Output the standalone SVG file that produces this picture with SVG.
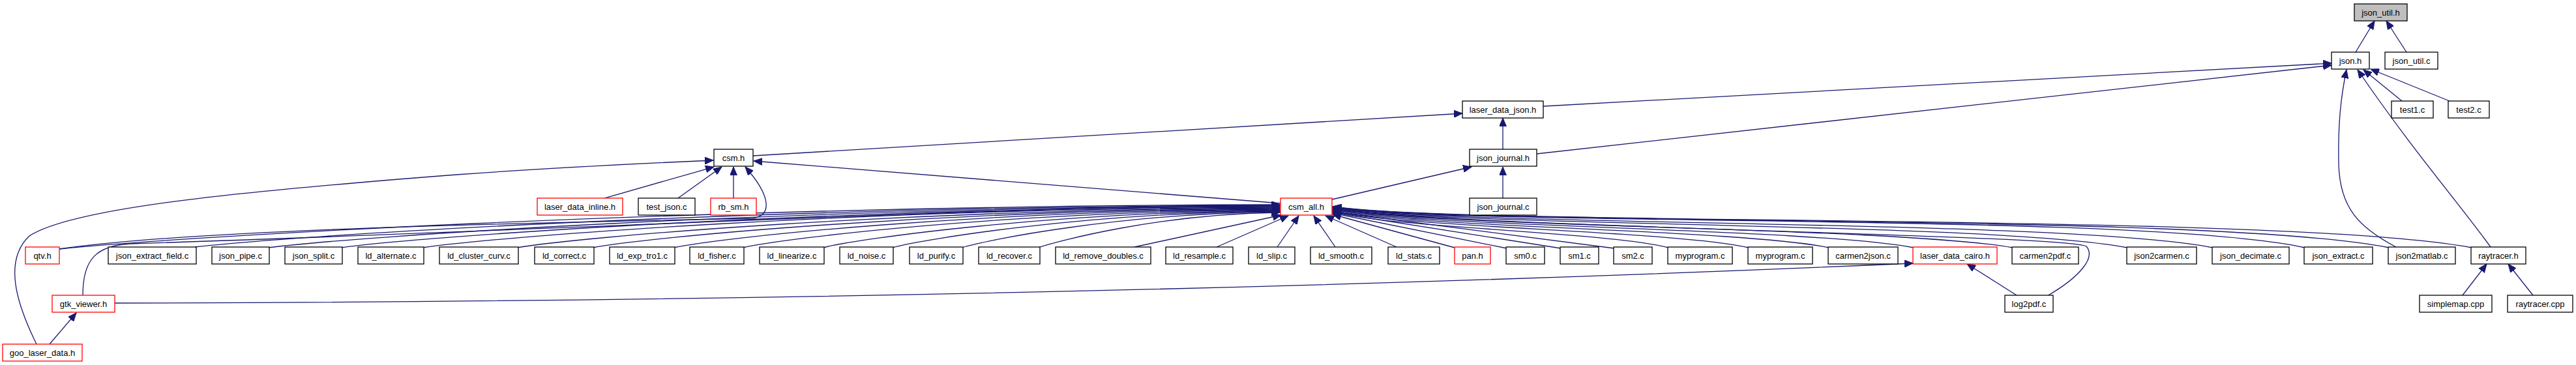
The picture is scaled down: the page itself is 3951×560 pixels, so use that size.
<svg xmlns="http://www.w3.org/2000/svg" width="3951" height="560" viewBox="0 0 3951 560">
<style>
.n rect{fill:#fff;stroke:#000;stroke-width:1.3}
.n.r rect{stroke:#ff0000}
.n.g rect{fill:#bfbfbf}
text{font-family:"Liberation Sans",Arial,sans-serif;font-size:13px;text-anchor:middle;fill:#000}
#edges path{fill:none;stroke:#191970;stroke-width:1.3;marker-end:url(#a)}
</style>
<defs>
<marker id="a" markerUnits="userSpaceOnUse" markerWidth="14" markerHeight="11" refX="13" refY="5.5" orient="auto"><path d="M0,0 L13,5.5 L0,11 z" fill="#191970" stroke="#191970" stroke-width="1"/></marker>
</defs>
<rect width="3951" height="560" fill="#fff"/>
<g id="edges">
<path d="M3613,80 L3642,32"/>
<path d="M3691,80 L3660,32"/>
<path d="M2367,163 L3576,97"/>
<path d="M2357,236 L3576,100"/>
<path d="M3684,155 L3625,107"/>
<path d="M3757,155 L3636,106"/>
<path d="M3675,379 C3620,350 3588,320 3587,250 C3586,190 3590,150 3599,107"/>
<path d="M3820,379 C3770,310 3700,230 3616,107"/>
<path d="M1155,239 L2243,174"/>
<path d="M2305,229 L2305,181"/>
<path d="M1965,312 L1156,247"/>
<path d="M2043,306 L2257,256"/>
<path d="M2305,304 L2305,256"/>
<path d="M927,304 L1095,256"/>
<path d="M1040,304 L1107,256"/>
<path d="M1125,304 L1125,256"/>
<path d="M56,528 C25,465 5,400 45,362 C110,320 350,295 700,268 C850,257 1000,250 1094,246"/>
<path d="M91,382 C300,352 800,342 1155,335 C1185,330 1182,300 1143,256"/>
<path d="M76,528 L117,480"/>
<path d="M176,465 Q1600,462 2934,404"/>
<path d="M3093,453 L3017,405"/>
<path d="M3777,453 L3814,405"/>
<path d="M3885,453 L3847,405"/>
<path d="M91,382 C241,366 1027,316 1963,314"/>
<path d="M127,453 C127,395 150,377 200,374 C800,355 1500,318 1963,315"/>
<path d="M299,379 C432,363 1131,317 1963,315"/>
<path d="M411,380 C535,364 1187,318 1963,316"/>
<path d="M523,380 C638,364 1243,319 1963,317"/>
<path d="M648,380 C753,364 1306,320 1963,318"/>
<path d="M793,380 C887,364 1378,321 1963,319"/>
<path d="M909,380 C993,364 1436,322 1963,320"/>
<path d="M1033,380 C1107,364 1498,323 1963,321"/>
<path d="M1139,380 C1205,365 1551,324 1963,322"/>
<path d="M1262,380 C1318,366 1612,325 1963,323"/>
<path d="M1368,380 C1416,367 1666,326 1963,324"/>
<path d="M1475,380 C1514,368 1719,327 1963,325"/>
<path d="M1592,380 C1622,370 1778,328 1963,326"/>
<path d="M1740,379 L1965,330"/>
<path d="M1866,379 L1976,331"/>
<path d="M1959,379 L1992,331"/>
<path d="M2048,379 L2015,331"/>
<path d="M2142,379 L2033,331"/>
<path d="M2231,380 L2044,329"/>
<path d="M2311,381 L2044,327"/>
<path d="M2394,381 L2044,326"/>
<path d="M2476,381 L2044,325"/>
<path d="M2559,380 C2471,356 2106,348 2044,324"/>
<path d="M2682,380 C2574,354 2121,348 2044,323"/>
<path d="M2805,380 C2676,352 2135,348 2044,322"/>
<path d="M2935,380 C2784,350 2151,348 2044,321"/>
<path d="M3087,380 C2910,348 2169,348 2044,320"/>
<path d="M3140,454 C3190,425 3215,395 3200,378 C3170,360 2200,348 2044,320"/>
<path d="M3263,380 C3056,340 2190,348 2044,319"/>
<path d="M3394,380 C3164,335 2206,348 2044,318"/>
<path d="M3535,380 C3282,325 2223,348 2044,318"/>
<path d="M3664,380 C3389,325 2238,348 2044,317"/>
<path d="M3791,380 C3494,325 2254,348 2044,317"/>
</g>
<g id="json_util_h" class="n g"><rect x="3611" y="6" width="81" height="26"/><text x="3651.5" y="24">json_util.h</text></g>
<g id="json_h" class="n"><rect x="3576" y="80" width="58" height="26"/><text x="3605" y="98">json.h</text></g>
<g id="json_util_c" class="n"><rect x="3658" y="80" width="81" height="26"/><text x="3698.5" y="98">json_util.c</text></g>
<g id="laser_data_json_h" class="n"><rect x="2243" y="155" width="124" height="26"/><text x="2305" y="173">laser_data_json.h</text></g>
<g id="test1_c" class="n"><rect x="3668" y="155" width="64" height="26"/><text x="3700" y="173">test1.c</text></g>
<g id="test2_c" class="n"><rect x="3755" y="155" width="63" height="26"/><text x="3786.5" y="173">test2.c</text></g>
<g id="csm_h" class="n"><rect x="1095" y="229" width="60" height="26"/><text x="1125" y="247">csm.h</text></g>
<g id="json_journal_h" class="n"><rect x="2254" y="229" width="103" height="26"/><text x="2305.5" y="247">json_journal.h</text></g>
<g id="laser_data_inline_h" class="n r"><rect x="824" y="304" width="131" height="26"/><text x="889.5" y="322">laser_data_inline.h</text></g>
<g id="test_json_c" class="n"><rect x="979" y="304" width="87" height="26"/><text x="1022.5" y="322">test_json.c</text></g>
<g id="rb_sm_h" class="n r"><rect x="1090" y="304" width="70" height="26"/><text x="1125" y="322">rb_sm.h</text></g>
<g id="csm_all_h" class="n r"><rect x="1964" y="304" width="79" height="26"/><text x="2003.5" y="322">csm_all.h</text></g>
<g id="json_journal_c" class="n"><rect x="2254" y="304" width="103" height="26"/><text x="2305.5" y="322">json_journal.c</text></g>
<g id="qtv_h" class="n r"><rect x="39" y="379" width="52" height="26"/><text x="65" y="397">qtv.h</text></g>
<g id="json_extract_field_c" class="n"><rect x="166" y="379" width="135" height="26"/><text x="233.5" y="397">json_extract_field.c</text></g>
<g id="json_pipe_c" class="n"><rect x="325" y="379" width="88" height="26"/><text x="369" y="397">json_pipe.c</text></g>
<g id="json_split_c" class="n"><rect x="437" y="379" width="88" height="26"/><text x="481" y="397">json_split.c</text></g>
<g id="ld_alternate_c" class="n"><rect x="549" y="379" width="101" height="26"/><text x="599.5" y="397">ld_alternate.c</text></g>
<g id="ld_cluster_curv_c" class="n"><rect x="674" y="379" width="121" height="26"/><text x="734.5" y="397">ld_cluster_curv.c</text></g>
<g id="ld_correct_c" class="n"><rect x="820" y="379" width="91" height="26"/><text x="865.5" y="397">ld_correct.c</text></g>
<g id="ld_exp_tro1_c" class="n"><rect x="935" y="379" width="100" height="26"/><text x="985" y="397">ld_exp_tro1.c</text></g>
<g id="ld_fisher_c" class="n"><rect x="1058" y="379" width="83" height="26"/><text x="1099.5" y="397">ld_fisher.c</text></g>
<g id="ld_linearize_c" class="n"><rect x="1165" y="379" width="99" height="26"/><text x="1214.5" y="397">ld_linearize.c</text></g>
<g id="ld_noise_c" class="n"><rect x="1288" y="379" width="82" height="26"/><text x="1329" y="397">ld_noise.c</text></g>
<g id="ld_purify_c" class="n"><rect x="1395" y="379" width="82" height="26"/><text x="1436" y="397">ld_purify.c</text></g>
<g id="ld_recover_c" class="n"><rect x="1501" y="379" width="94" height="26"/><text x="1548" y="397">ld_recover.c</text></g>
<g id="ld_remove_doubles_c" class="n"><rect x="1619" y="379" width="146" height="26"/><text x="1692" y="397">ld_remove_doubles.c</text></g>
<g id="ld_resample_c" class="n"><rect x="1788" y="379" width="103" height="26"/><text x="1839.5" y="397">ld_resample.c</text></g>
<g id="ld_slip_c" class="n"><rect x="1915" y="379" width="71" height="26"/><text x="1950.5" y="397">ld_slip.c</text></g>
<g id="ld_smooth_c" class="n"><rect x="2010" y="379" width="94" height="26"/><text x="2057" y="397">ld_smooth.c</text></g>
<g id="ld_stats_c" class="n"><rect x="2129" y="379" width="79" height="26"/><text x="2168.5" y="397">ld_stats.c</text></g>
<g id="pan_h" class="n r"><rect x="2231" y="379" width="55" height="26"/><text x="2258.5" y="397">pan.h</text></g>
<g id="sm0_c" class="n"><rect x="2310" y="379" width="59" height="26"/><text x="2339.5" y="397">sm0.c</text></g>
<g id="sm1_c" class="n"><rect x="2393" y="379" width="59" height="26"/><text x="2422.5" y="397">sm1.c</text></g>
<g id="sm2_c" class="n"><rect x="2475" y="379" width="59" height="26"/><text x="2504.5" y="397">sm2.c</text></g>
<g id="myprogram_c_1" class="n"><rect x="2558" y="379" width="99" height="26"/><text x="2607.5" y="397">myprogram.c</text></g>
<g id="myprogram_c_2" class="n"><rect x="2681" y="379" width="99" height="26"/><text x="2730.5" y="397">myprogram.c</text></g>
<g id="carmen2json_c" class="n"><rect x="2804" y="379" width="107" height="26"/><text x="2857.5" y="397">carmen2json.c</text></g>
<g id="laser_data_cairo_h" class="n r"><rect x="2934" y="379" width="129" height="26"/><text x="2998.5" y="397">laser_data_cairo.h</text></g>
<g id="carmen2pdf_c" class="n"><rect x="3086" y="379" width="102" height="26"/><text x="3137" y="397">carmen2pdf.c</text></g>
<g id="json2carmen_c" class="n"><rect x="3262" y="379" width="107" height="26"/><text x="3315.5" y="397">json2carmen.c</text></g>
<g id="json_decimate_c" class="n"><rect x="3393" y="379" width="118" height="26"/><text x="3452" y="397">json_decimate.c</text></g>
<g id="json_extract_c" class="n"><rect x="3534" y="379" width="105" height="26"/><text x="3586.5" y="397">json_extract.c</text></g>
<g id="json2matlab_c" class="n"><rect x="3663" y="379" width="103" height="26"/><text x="3714.5" y="397">json2matlab.c</text></g>
<g id="raytracer_h" class="n"><rect x="3790" y="379" width="84" height="26"/><text x="3832" y="397">raytracer.h</text></g>
<g id="gtk_viewer_h" class="n r"><rect x="80" y="453" width="96" height="26"/><text x="128" y="471">gtk_viewer.h</text></g>
<g id="log2pdf_c" class="n"><rect x="3075" y="453" width="74" height="26"/><text x="3112" y="471">log2pdf.c</text></g>
<g id="simplemap_cpp" class="n"><rect x="3711" y="453" width="111" height="26"/><text x="3766.5" y="471">simplemap.cpp</text></g>
<g id="raytracer_cpp" class="n"><rect x="3846" y="453" width="100" height="26"/><text x="3896" y="471">raytracer.cpp</text></g>
<g id="goo_laser_data_h" class="n r"><rect x="4" y="528" width="122" height="26"/><text x="65" y="546">goo_laser_data.h</text></g>
</svg>
